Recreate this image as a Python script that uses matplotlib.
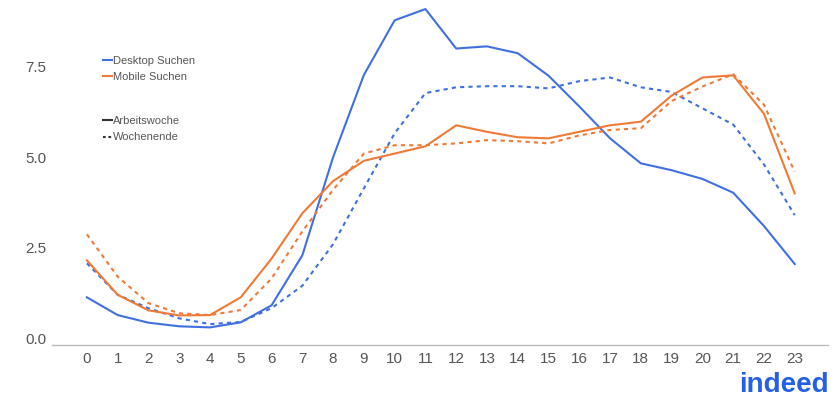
import numpy as np
import matplotlib.pyplot as plt
from matplotlib.lines import Line2D

plt.rcParams['font.family'] = ['Liberation Sans', 'DejaVu Sans']

# Share of searches per hour of day (%)
hours = list(range(24))
desktop_week = [1.13, 0.64, 0.43, 0.33, 0.30, 0.44, 0.91, 2.29, 5.0, 7.27, 8.78, 9.09,
                8.0, 8.06, 7.87, 7.25, 6.4, 5.52, 4.83, 4.64, 4.4, 4.02, 3.1, 2.05]
desktop_weekend = [2.07, 1.2, 0.83, 0.55, 0.39, 0.45, 0.83, 1.45, 2.6, 4.14, 5.66, 6.77,
                   6.93, 6.96, 6.96, 6.9, 7.1, 7.2, 6.93, 6.8, 6.35, 5.9, 4.8, 3.4]
mobile_week = [2.15, 1.2, 0.77, 0.63, 0.64, 1.13, 2.2, 3.45, 4.34, 4.9, 5.1, 5.3,
               5.88, 5.7, 5.55, 5.52, 5.7, 5.88, 5.98, 6.7, 7.2, 7.26, 6.2, 4.0]
mobile_weekend = [2.87, 1.7, 0.97, 0.69, 0.64, 0.78, 1.65, 2.95, 4.1, 5.1, 5.33, 5.33,
                  5.38, 5.47, 5.44, 5.38, 5.6, 5.75, 5.8, 6.55, 6.95, 7.29, 6.45, 4.6]

blue = '#4070e0'
orange = '#f07a35'
dots = (0, (2, 2))

fig = plt.figure(figsize=(8.36, 4.07), dpi=100)
ax = fig.add_axes([0.062, 0.152, 0.928, 0.848])

ax.plot(hours, desktop_week, color=blue, lw=1.5)
ax.plot(hours, desktop_weekend, color=blue, lw=1.5, linestyle=dots)
ax.plot(hours, mobile_week, color=orange, lw=1.5)
ax.plot(hours, mobile_weekend, color=orange, lw=1.5, linestyle=dots)

ax.set_xlim(-1.14, 24.07)
ax.set_ylim(-0.19, 9.34)
ax.set_xticks(hours)
ax.set_yticks([0, 2.5, 5.0, 7.5])
ax.set_yticklabels(['0.0', '2.5', '5.0', '7.5'])
ax.tick_params(axis='both', length=0, labelsize=11, colors='#555555')
ax.tick_params(axis='x', pad=5)
ax.tick_params(axis='y', pad=4)
for side in ['top', 'right', 'left']:
    ax.spines[side].set_visible(False)
ax.spines['bottom'].set_color('#bbbbbb')
ax.spines['bottom'].set_linewidth(1)

# two separate legends: device and weekday/weekend
leg_kw = dict(loc='center left', frameon=False, fontsize=8, handlelength=0.8,
              handletextpad=0.1, labelspacing=0.55, labelcolor='#555555')
dev_handles = [Line2D([], [], color=blue, lw=1.5), Line2D([], [], color=orange, lw=1.5)]
leg1 = ax.legend(dev_handles, ['Desktop Suchen', 'Mobile Suchen'],
                 bbox_to_anchor=(0.053, 0.80), **leg_kw)
ax.add_artist(leg1)
day_handles = [Line2D([], [], color='#333333', lw=1.5),
               Line2D([], [], color='#333333', lw=1.5, linestyle=(0, (1.3, 1.3)))]
ax.legend(day_handles, ['Arbeitswoche', 'Wochenende'],
          bbox_to_anchor=(0.053, 0.625), **leg_kw)

fig.text(0.991, 0.037, 'indeed', ha='right', va='baseline', fontsize=20,
         fontweight='bold', color='#2460e6')

fig.savefig('out.png', dpi=100, facecolor='white')
